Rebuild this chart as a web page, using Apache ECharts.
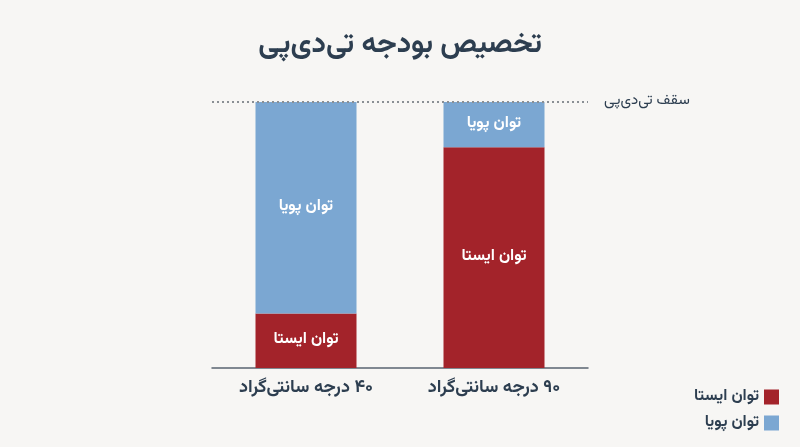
<!DOCTYPE html>
<html><head><meta charset="utf-8">
<script src="https://cdn.jsdelivr.net/npm/echarts@6/dist/echarts.min.js"></script>
<style>html,body{margin:0;padding:0;background:#f7f6f4;}#c{width:800px;height:447px;}</style>
</head><body><div id="c"></div>
<script>
const categories = ['۴۰ درجه سانتی‌گراد', '۹۰ درجه سانتی‌گراد'];
const staticPower = [20.5, 83];
const dynamicPower = [79.5, 17];
const tdpCap = 100;
const seriesNames = ['توان ایستا', 'توان پویا'];
const titleText = 'تخصیص بودجه تی‌دی‌پی';
const capLabel = 'سقف تی‌دی‌پی';

const RLM = '\u200F';
const FONT = 'Vazirmatn, "DejaVu Sans", sans-serif';
const chart = echarts.init(document.getElementById('c'));
chart.setOption({
  backgroundColor: '#f7f6f4',
  textStyle: {fontFamily: FONT},
  title: {text: titleText, left: 'center', top: 28,
    textStyle: {fontSize: 29, fontWeight: 'bold', color: '#2d3e50', fontFamily: FONT}},
  legend: {orient: 'vertical', right: 16, bottom: 11, align: 'right', itemWidth: 15, itemHeight: 15,
    itemGap: 10, icon: 'rect',
    textStyle: {fontSize: 16, fontWeight: 'bold', color: '#2d3e50', fontFamily: FONT}, data: seriesNames},
  grid: {left: 212, right: 212, top: 102, bottom: 79},
  xAxis: {type: 'category', data: categories,
    axisLine: {lineStyle: {color: '#5a6470', width: 1.5}}, axisTick: {show: false},
    axisLabel: {fontSize: 18, fontWeight: 'bold', color: '#2d3e50', margin: 12, fontFamily: FONT,
      formatter: v => RLM + v}},
  yAxis: {type: 'value', min: 0, max: 100, show: false},
  series: [
    {name: seriesNames[0], type: 'bar', stack: 't', data: staticPower, barWidth: 101,
     itemStyle: {color: '#a3232a'},
     label: {show: true, formatter: seriesNames[0], color: '#fff', fontSize: 16, fontWeight: 'bold', fontFamily: FONT},
     markLine: {symbol: 'none', silent: true,
       lineStyle: {type: [2, 3], color: '#8a8f94', width: 2},
       label: {show: true, position: 'end', formatter: capLabel, color: '#2d3e50', fontSize: 15, distance: 16, fontFamily: FONT},
       data: [{yAxis: tdpCap}]}},
    {name: seriesNames[1], type: 'bar', stack: 't', data: dynamicPower, barWidth: 101,
     itemStyle: {color: '#7ba7d2'},
     label: {show: true, formatter: seriesNames[1], color: '#fff', fontSize: 16, fontWeight: 'bold', fontFamily: FONT}}
  ]
});
</script></body></html>
